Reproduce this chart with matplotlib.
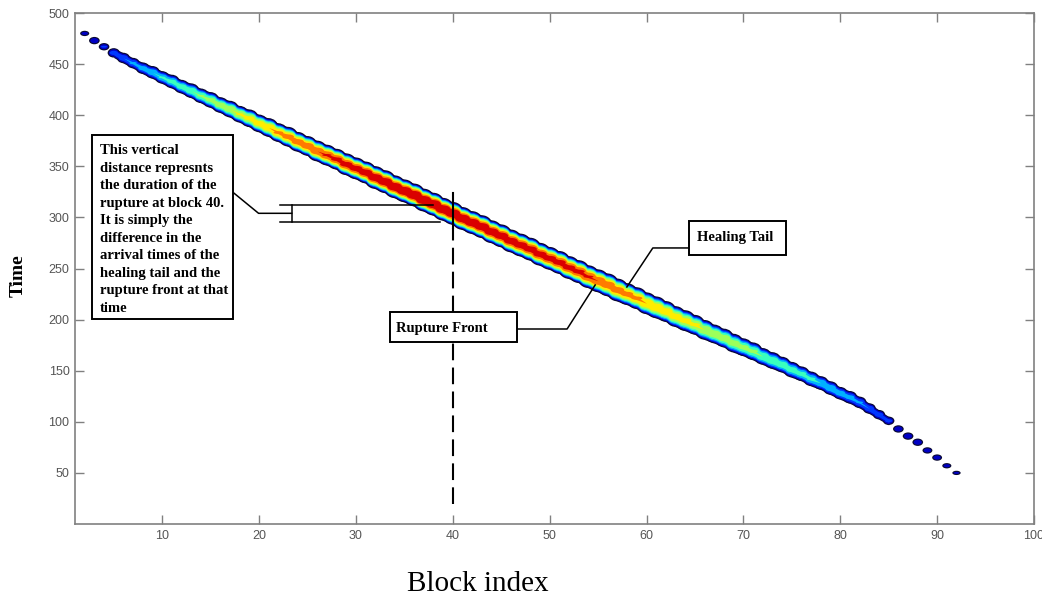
import matplotlib
matplotlib.use('Agg')
import matplotlib.pyplot as plt
import numpy as np
from matplotlib.patches import Ellipse, Rectangle
from matplotlib.collections import PatchCollection

# Donnees : une valeur par bloc (blocs 2 a 92)
blocks = list(range(2, 93))

# temps central de la bande (entre front de rupture et queue de cicatrisation)
t_center = [480, 473, 467, 461, 456, 451, 446, 442, 437, 433,
            428, 424, 419, 415, 410, 406, 401, 397, 392, 388,
            383, 379, 374, 370, 365, 361, 357, 352, 348, 344,
            339, 335, 330, 326, 322, 317, 313, 308, 304, 299,
            295, 291, 286, 282, 277, 273, 269, 264, 260, 256,
            251, 247, 242, 238, 234, 229, 225, 221, 216, 212,
            208, 203, 199, 195, 190, 186, 182, 177, 173, 169,
            164, 160, 156, 151, 147, 142, 138, 133, 128, 124,
            119, 113, 107, 101, 93, 86, 80, 72, 65, 57,
            50]

# duree de la rupture (epaisseur verticale de la bande)
duration = [3, 5, 5, 7, 8, 8, 9, 10, 10, 11,
            11, 12, 12, 13, 13, 14, 14, 15, 15, 16,
            16, 17, 17, 17, 18, 18, 18, 19, 19, 19,
            20, 20, 20, 20, 20, 20, 20, 20, 20, 20,
            20, 20, 20, 20, 20, 20, 20, 20, 20, 20,
            20, 20, 20, 20, 20, 20, 19, 19, 19, 19,
            18, 18, 18, 17, 17, 16, 16, 16, 15, 15,
            14, 14, 13, 13, 12, 12, 11, 11, 10, 10,
            9, 8, 7, 6, 5, 5, 5, 4, 4, 3,
            2]

# intensite maximale (0 a 1, echelle jet)
peak = [0.10, 0.12, 0.14, 0.18, 0.22, 0.26, 0.30, 0.34, 0.37, 0.40,
        0.43, 0.46, 0.49, 0.52, 0.55, 0.58, 0.61, 0.64, 0.67, 0.71,
        0.74, 0.77, 0.79, 0.81, 0.83, 0.85, 0.87, 0.89, 0.90, 0.92,
        0.94, 0.95, 0.97, 0.98, 0.99, 0.99, 0.99, 0.98, 0.98, 0.97,
        0.96, 0.95, 0.94, 0.93, 0.92, 0.91, 0.90, 0.90, 0.89, 0.89,
        0.88, 0.87, 0.85, 0.83, 0.80, 0.78, 0.76, 0.74, 0.72, 0.70,
        0.68, 0.66, 0.64, 0.62, 0.60, 0.58, 0.56, 0.54, 0.52, 0.50,
        0.48, 0.46, 0.44, 0.42, 0.40, 0.38, 0.36, 0.34, 0.31, 0.28,
        0.25, 0.22, 0.19, 0.16, 0.12, 0.12, 0.11, 0.11, 0.10, 0.10,
        0.08]

levels = [0.0, 0.12, 0.24, 0.36, 0.48, 0.60, 0.72, 0.84, 1.0]

serif = 'Liberation Serif'

b_arr = np.array(blocks, dtype=float)
t_arr = np.array(t_center, dtype=float)
d_arr = np.array(duration, dtype=float)
p_arr = np.array(peak)
# partie continue de la bande (les extremites sont des points isoles)
cont = d_arr >= 6

fig = plt.figure(figsize=(10.42, 5.98), dpi=100)
ax = fig.add_axes([75 / 1042, 74 / 598, 959 / 1042, 511 / 598])

cmap = plt.cm.jet
width = 0.45 + 0.08 * d_arr

# contour sombre
outline = [Ellipse((b, t), w + 0.25, d + 2.2) for b, t, d, w in zip(b_arr, t_arr, d_arr, width)]
ax.add_collection(PatchCollection(outline, facecolor='#0a0a30', edgecolor='none', zorder=2))
ax.fill_between(b_arr[cont], (t_arr - d_arr / 2 - 1.1)[cont], (t_arr + d_arr / 2 + 1.1)[cont],
                color='#0a0a30', lw=0, zorder=2)

# niveaux de couleur empiles (comme un contourf)
for k in range(len(levels) - 1):
    lev = levels[k]
    col = cmap((levels[k] + levels[k + 1]) / 2)
    f = np.sqrt(np.clip(1 - lev / p_arr, 0, None))
    h = d_arr * f
    ax.fill_between(b_arr[cont], (t_arr - h / 2)[cont], (t_arr + h / 2)[cont],
                    color=col, lw=0, zorder=3 + k)
    patches = [Ellipse((b, t), w * ff ** 0.3, hh)
               for b, t, w, ff, hh in zip(b_arr, t_arr, width, f, h) if ff > 0]
    ax.add_collection(PatchCollection(patches, facecolor=col, edgecolor='none', zorder=3 + k))

# Ligne verticale au bloc 40
ax.plot([40, 40], [290, 324], color='black', lw=1.5, zorder=20)
ax.plot([40, 40], [20, 290], color='black', lw=1.5, ls=(0, (8, 3.5)), zorder=20)

# Boite de texte principale
ax.add_patch(Rectangle((2.8, 200.6), 14.5, 180, facecolor='white', edgecolor='black', lw=1.4, zorder=30))
ax.text(3.6, 371.5, "This vertical\ndistance represnts\nthe duration of the\nrupture at block 40.\n"
        "It is simply the\ndifference in the\narrival times of the\nhealing tail and the\n"
        "rupture front at that\ntime",
        family=serif, fontsize=10.5, fontweight='bold', va='top', ha='left',
        linespacing=1.45, zorder=31)

# crochet indiquant la duree
ax.plot([17.3, 19.95, 23.37], [324.6, 304.0, 304.0], color='black', lw=1.1, zorder=25)
ax.plot([22.16, 37.95], [312.1, 312.1], color='black', lw=1.1, zorder=25)
ax.plot([22.16, 38.67], [295.8, 295.8], color='black', lw=1.1, zorder=25)
ax.plot([23.37, 23.37], [295.8, 312.1], color='black', lw=1.1, zorder=25)

# Rupture Front
ax.add_patch(Rectangle((33.5, 178.1), 13.1, 29.3, facecolor='white', edgecolor='black', lw=1.4, zorder=30))
ax.text(34.1, 191.5, "Rupture Front", family=serif, fontsize=10.5, fontweight='bold',
        va='center', ha='left', zorder=31)
ax.plot([46.6, 51.8, 54.7], [190.8, 190.8, 233.9], color='black', lw=1.1, zorder=25)

# Healing Tail
ax.add_patch(Rectangle((64.37, 263.2), 10.0, 33.3, facecolor='white', edgecolor='black', lw=1.4, zorder=30))
ax.text(65.2, 280.5, "Healing Tail", family=serif, fontsize=10.5, fontweight='bold',
        va='center', ha='left', zorder=31)
ax.plot([64.37, 60.65, 57.97], [270.1, 270.1, 231.9], color='black', lw=1.1, zorder=25)

# Axes facon MATLAB
ax.set_xlim(1, 100)
ax.set_ylim(0, 500)
ax.set_xticks(range(10, 101, 10))
ax.set_yticks(range(50, 501, 50))
ax.tick_params(direction='in', length=6.5, width=1.0, color='#808080', labelcolor='#555555',
               labelsize=9, top=True, right=True, pad=4)
for lab in ax.get_xticklabels() + ax.get_yticklabels():
    lab.set_family('Liberation Sans')
for s in ax.spines.values():
    s.set_color('#808080')
    s.set_linewidth(1.2)

ax.set_ylabel("Time", family=serif, fontsize=14, fontweight='bold')
ax.yaxis.set_label_coords(-0.050, 0.486)
ax.set_xlabel("Block index", family=serif, fontsize=21)
ax.xaxis.set_label_coords(0.42, -0.092)

plt.savefig('out.png', dpi=100)
plt.close()
